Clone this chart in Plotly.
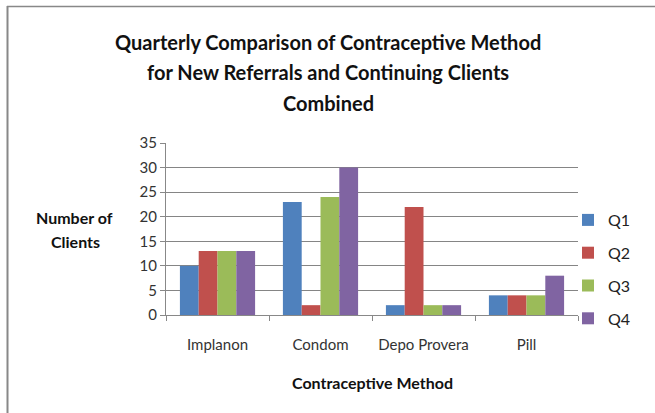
import plotly.graph_objects as go

categories = ["Implanon", "Condom", "Depo Provera", "Pill"]
q1 = [10, 23, 2, 4]
q2 = [13, 2, 22, 4]
q3 = [13, 24, 2, 4]
q4 = [13, 30, 2, 8]
series_names = ["Q1", "Q2", "Q3", "Q4"]
series_values = [q1, q2, q3, q4]
colors = ["#4F81BD", "#C0504D", "#9BBB59", "#8064A2"]
title_lines = ["Quarterly Comparison of Contraceptive Method",
               "for New Referrals and Continuing Clients",
               "Combined"]

W, H = 655, 413
L, R, T, B = 166, 578, 143, 315

fig = go.Figure()
for i, (name, vals) in enumerate(zip(series_names, series_values)):
    fig.add_trace(go.Bar(x=categories, y=vals, name=name, marker_color=colors[i],
                         marker_line_width=0, legendgroup=name))

def px2x(px):
    return (px - L) / (R - L)

def py2y(py):
    return (B - py) / (B - T)

fig.update_layout(
    width=W, height=H,
    margin=dict(l=L, r=W - R, t=T, b=H - B, autoexpand=False),
    paper_bgcolor="white", plot_bgcolor="white",
    font=dict(family="Lato, Open Sans, sans-serif", color="#222"),
    barmode="group", bargap=0.27, bargroupgap=0,
    showlegend=True,
    legend=dict(x=px2x(568), y=py2y(203), xanchor="left", yanchor="top",
                font=dict(size=16, color="#222"), tracegroupgap=9,
                traceorder="grouped", bgcolor="rgba(0,0,0,0)", itemwidth=30),
    xaxis=dict(showline=True, linecolor="#888", ticks="outside", tickson="boundaries",
               ticklen=5, tickcolor="#888", tickfont=dict(size=15, color="#333"),
               tickangle=0, ticklabelstandoff=16, showgrid=False),
    yaxis=dict(range=[0, 35], dtick=5, showline=True, linecolor="#888",
               ticks="outside", ticklen=5, tickcolor="#888",
               gridcolor="#858585", gridwidth=1,
               tickfont=dict(size=15, color="#333"), zeroline=False),
)

# chart border: left and top edges
fig.add_shape(type="line", xref="paper", yref="paper",
              x0=px2x(7.5), x1=px2x(7.5), y0=py2y(6), y1=py2y(413),
              line=dict(color="#888", width=2), layer="below")
fig.add_shape(type="line", xref="paper", yref="paper",
              x0=px2x(7), x1=px2x(655), y0=py2y(6.5), y1=py2y(6.5),
              line=dict(color="#888", width=1.5), layer="below")

for line, ypx in zip(title_lines, [42, 72, 103]):
    fig.add_annotation(text="<b>" + line + "</b>", xref="paper", yref="paper",
                       x=px2x(328), y=py2y(ypx), xanchor="center", yanchor="middle",
                       showarrow=False, font=dict(size=20, color="#111"))
fig.add_annotation(text="<b>Number of</b>", xref="paper", yref="paper",
                   x=px2x(74), y=py2y(217), xanchor="center", yanchor="middle",
                   showarrow=False, font=dict(size=16, color="#111"))
fig.add_annotation(text="<b>Clients</b>", xref="paper", yref="paper",
                   x=px2x(75), y=py2y(241), xanchor="center", yanchor="middle",
                   showarrow=False, font=dict(size=16, color="#111"))
fig.add_annotation(text="<b>Contraceptive Method</b>", xref="paper", yref="paper",
                   x=px2x(372), y=py2y(382), xanchor="center", yanchor="middle",
                   showarrow=False, font=dict(size=16, color="#111"))

fig.write_html("out.html", config={"displayModeBar": False},
               post_script="document.body.style.margin='0';")
